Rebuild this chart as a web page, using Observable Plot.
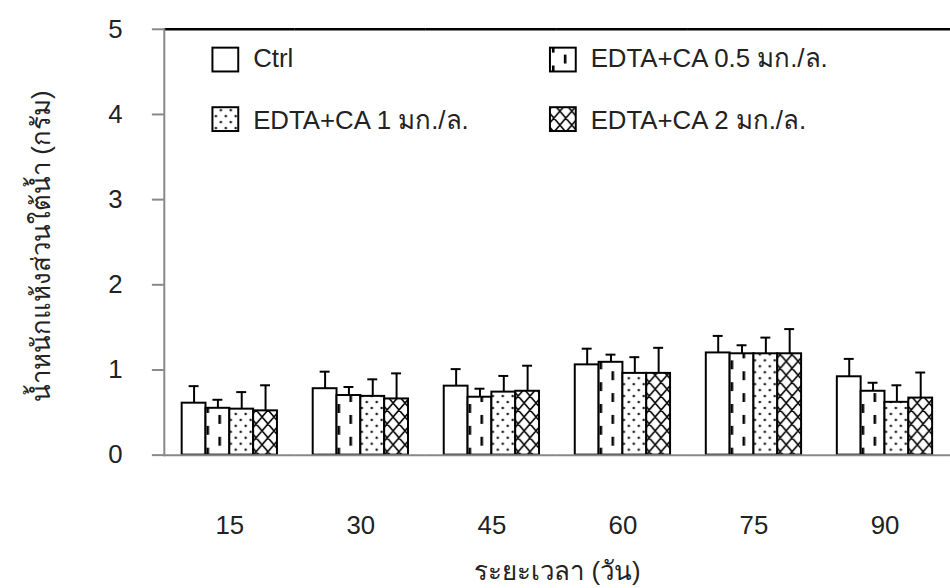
<!DOCTYPE html>
<html>
<head>
<meta charset="utf-8">
<script src="https://cdn.jsdelivr.net/npm/d3@7"></script>
<script src="https://cdn.jsdelivr.net/npm/@observablehq/plot@0.6"></script>
<style>
  html, body { margin: 0; padding: 0; background: #fff; overflow: hidden; width: 950px; height: 588px; }
  #chart svg { display: block; }
</style>
</head>
<body>
<div id="chart"></div>
<script>
// ---- data ----
const days = ["15", "30", "45", "60", "75", "90"];
const series = ["Ctrl", "EDTA+CA 0.5 มก./ล.", "EDTA+CA 1 มก./ล.", "EDTA+CA 2 มก./ล."];
const ctrl    = [0.61, 0.78, 0.81, 1.06, 1.20, 0.92];
const ctrlErr = [0.20, 0.20, 0.20, 0.19, 0.20, 0.21];
const ca05    = [0.55, 0.70, 0.68, 1.09, 1.19, 0.75];
const ca05Err = [0.10, 0.10, 0.10, 0.09, 0.10, 0.10];
const ca1     = [0.54, 0.69, 0.74, 0.96, 1.19, 0.62];
const ca1Err  = [0.20, 0.20, 0.19, 0.19, 0.19, 0.20];
const ca2     = [0.52, 0.66, 0.75, 0.96, 1.19, 0.67];
const ca2Err  = [0.30, 0.30, 0.30, 0.30, 0.29, 0.30];
const yTicks = [0, 1, 2, 3, 4, 5];
const yLabel = "น้ำหนักแห้งส่วนใต้น้ำ (กรัม)";
const xLabel = "ระยะเวลา (วัน)";

const vals = [ctrl, ca05, ca1, ca2];
const errs = [ctrlErr, ca05Err, ca1Err, ca2Err];
const rows = days.flatMap((d, i) => series.map((s, j) => ({day: d, series: s, value: vals[j][i], err: errs[j][i]})));

const fills = ["white", "url(#pat05)", "url(#pat1)", "url(#pat2)"];
const FONT = "'Liberation Sans', Arial, 'DejaVu Sans', sans-serif";

const chart = Plot.plot({
  width: 957,
  height: 588,
  marginLeft: 165,
  marginRight: 0,
  marginTop: 29,
  marginBottom: 130,
  style: {fontFamily: FONT, fontSize: "26px", color: "#222", background: "white", overflow: "visible"},
  fx: {domain: days, padding: 0},
  x: {domain: series, paddingInner: 0, paddingOuter: 0.69, axis: null},
  y: {domain: [0, 5]},
  color: {domain: series, range: fills},
  marks: [
    Plot.ruleY([5], {stroke: "black", strokeWidth: 2.5}),
    Plot.barY(rows, {fx: "day", x: "series", y: "value", fill: "series", stroke: "black", strokeWidth: 2}),
    Plot.ruleX(rows, {fx: "day", x: "series", y1: "value", y2: d => d.value + d.err, stroke: "black", strokeWidth: 2}),
    Plot.tickY(rows, {fx: "day", x: "series", y: d => d.value + d.err, stroke: "black", strokeWidth: 2, inset: 7}),
    Plot.ruleY([0], {stroke: "#888", strokeWidth: 2}),
    Plot.frame({anchor: "left", facetAnchor: "left", stroke: "#888", strokeWidth: 2}),
    Plot.axisY({ticks: yTicks, tickFormat: d => String(d), tickSize: 12, tickPadding: 30, stroke: "#888", strokeWidth: 2,
      label: null, fontSize: 26}),
    Plot.axisFx({anchor: "bottom", tickSize: 0, tickPadding: 61, label: null, fontSize: 26}),
    Plot.text([yLabel], {facet: "super", text: d => d, frameAnchor: "left", rotate: -90, dx: -123, dy: 4,
      fontSize: 26, fill: "#222", textAnchor: "middle"}),
    Plot.text([xLabel], {facet: "super", text: d => d, frameAnchor: "bottom", dy: 117, lineAnchor: "middle",
      fontSize: 26, fill: "#222", textAnchor: "middle"})
  ]
});

document.getElementById("chart").appendChild(chart);

// ---- patterns ----
const svg = d3.select(chart);
const defs = svg.insert("defs", ":first-child");
const p05 = defs.append("pattern").attr("id", "pat05").attr("patternUnits", "userSpaceOnUse").attr("width", 24).attr("height", 22);
p05.append("rect").attr("width", 24).attr("height", 22).attr("fill", "white");
p05.append("rect").attr("x", 4).attr("y", 0).attr("width", 2.6).attr("height", 9).attr("fill", "black");
p05.append("rect").attr("x", 16).attr("y", 11).attr("width", 2.6).attr("height", 9).attr("fill", "black");

const p1 = defs.append("pattern").attr("id", "pat1").attr("patternUnits", "userSpaceOnUse").attr("width", 10).attr("height", 12);
p1.append("rect").attr("width", 10).attr("height", 12).attr("fill", "white");
p1.append("circle").attr("cx", 2.5).attr("cy", 3).attr("r", 1.2).attr("fill", "black");
p1.append("circle").attr("cx", 7.5).attr("cy", 9).attr("r", 1.2).attr("fill", "black");

const p2 = defs.append("pattern").attr("id", "pat2").attr("patternUnits", "userSpaceOnUse").attr("width", 12).attr("height", 14);
p2.append("rect").attr("width", 12).attr("height", 14).attr("fill", "white");
p2.append("path").attr("d", "M0,0L12,14M12,0L0,14M-1,13L1,15M11,-1L13,1M-1,1L1,-1M11,15L13,13").attr("stroke", "black").attr("stroke-width", 1.6);

// ---- legend (inside plot area) ----
const legendPos = [
  {box: [214, 48], text: [255, 67]},
  {box: [554, 48], text: [595, 67]},
  {box: [214, 108], text: [255, 130]},
  {box: [554, 108], text: [595, 130]}
];
const lg = svg.append("g").attr("font-family", FONT).attr("font-size", 26).attr("fill", "#222").attr("text-anchor", "start");
series.forEach((s, i) => {
  const p = legendPos[i];
  lg.append("rect").attr("x", p.box[0]).attr("y", p.box[1]).attr("width", 26).attr("height", 24)
    .attr("fill", fills[i]).attr("stroke", "black").attr("stroke-width", 2);
  lg.append("text").attr("x", p.text[0]).attr("y", p.text[1]).attr("text-anchor", "start").text(s);
});
</script>
</body>
</html>
